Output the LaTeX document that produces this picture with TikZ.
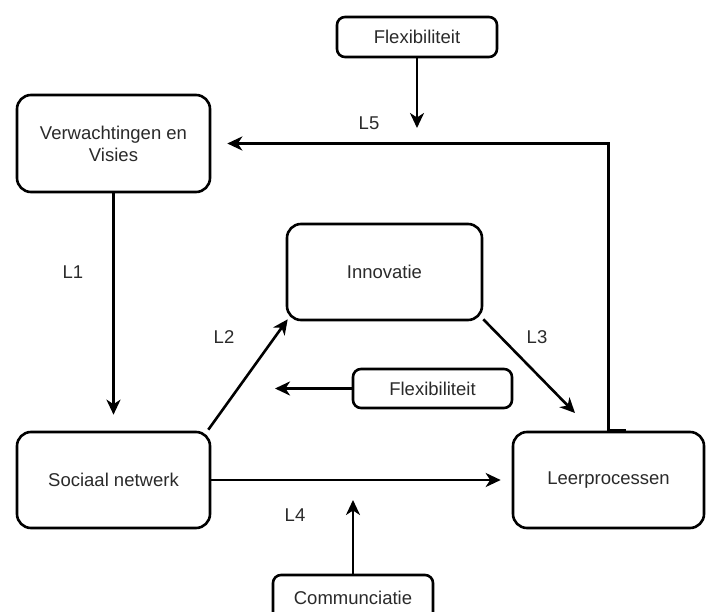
\documentclass[tikz,border=0pt]{standalone}
\usepackage{fontspec}
\setmainfont{Liberation Sans}
\usetikzlibrary{arrows.meta}
\definecolor{txt}{HTML}{2A2A2A}
\begin{document}
\begin{tikzpicture}[x=1pt,y=-1pt,
  bigbox/.style={draw=black,line width=2.6pt,rounded corners=14pt,fill=white,
    minimum width=#1,minimum height=96pt,inner sep=0pt,align=center,
    text=txt,font=\fontsize{18.5}{22}\selectfont},
  smallbox/.style={draw=black,line width=2.6pt,rounded corners=8pt,fill=white,
    minimum width=160pt,minimum height=#1,inner sep=0pt,align=center,
    text=txt,font=\fontsize{18.5}{22}\selectfont},
  link/.style={draw=black,line width=2.6pt,-{Stealth[length=15pt,width=14pt,inset=4.5pt]}},
  lbl/.style={text=txt,font=\fontsize{18.5}{22}\selectfont,inner sep=0pt}]
\useasboundingbox (0,0) rectangle (712,612);

% boxes
\node[smallbox=40pt] (flexT) at (417,37) {Flexibiliteit};
\node[bigbox=193pt, minimum height=97pt] (verw) at (113.5,143.5) {Verwachtingen en\\Visies};
\node[bigbox=195pt] (innov) at (384.5,272) {Innovatie};
\node[smallbox=39pt, minimum width=159pt] (flexM) at (432.5,388.5) {Flexibiliteit};
\node[bigbox=193pt] (soc) at (113.5,480) {Sociaal netwerk};
\node[bigbox=191pt] (leer) at (608.5,480) {Leerprocessen};
\node[smallbox=46pt] (comm) at (353,598) {Communciatie};

% free arrow ends
\coordinate (flexTend) at (417,128);
\coordinate (flexMend) at (275,388.5);
\coordinate (commend) at (353,500);
\coordinate (innovEnd) at (575,413);

% connectors
\draw[link] (flexT.south) -- (flexTend);
\draw[link, shorten >=16pt] (leer.north) |- (verw.east);
\draw[line width=3pt] (leer.north) -- ++(17,0);
\draw[link, shorten >=16pt] (verw.south) -- (soc.north);
\draw[link] ([xshift=-3pt,yshift=1pt]soc.north east) -- ([xshift=2pt,yshift=2pt]innov.south west);
\draw[link] ([yshift=2pt]innov.south east) -- (innovEnd);
\draw[link] (flexM.west) -- (flexMend);
\draw[link, shorten >=11pt] (soc.east) -- (leer.west);
\draw[link] (comm.north) -- (commend);

% link labels
\node[lbl] (l1) at (73,272) {L1};
\node[lbl] (l2) at (224,337) {L2};
\node[lbl] (l3) at (537,337) {L3};
\node[lbl] (l4) at (295,515) {L4};
\node[lbl] (l5) at (369,123) {L5};
\end{tikzpicture}
\end{document}
